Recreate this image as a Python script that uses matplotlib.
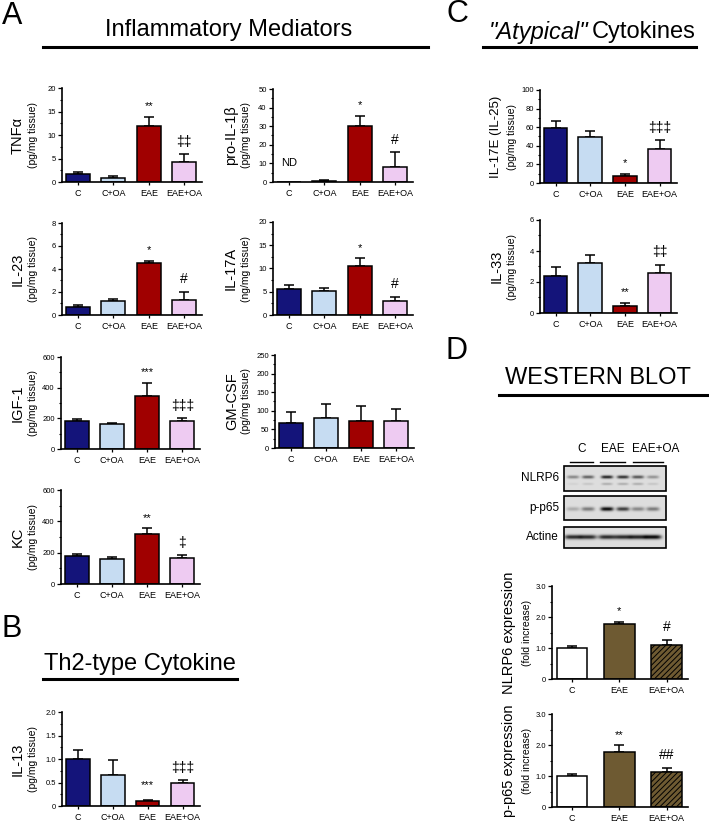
import numpy as np
import matplotlib.pyplot as plt
from matplotlib.lines import Line2D
from matplotlib.patches import Rectangle
from matplotlib.ticker import MultipleLocator, AutoMinorLocator, FuncFormatter

plt.rcParams['font.family'] = ['Liberation Sans', 'DejaVu Sans']
plt.rcParams['hatch.linewidth'] = 0.7

W, H = 709, 822

# groups / colours
groups4 = ['C', 'C+OA', 'EAE', 'EAE+OA']
groups3 = ['C', 'EAE', 'EAE+OA']
colors4 = ['#14147a', '#c6dcf2', '#a00000', '#eecbf2']
colors3 = ['white', '#6e5a32', '#6e5a32']

# values (mean, upper SEM)
tnf = [1.6, 0.8, 12.0, 4.3]
tnf_err = [0.6, 0.5, 1.8, 1.6]
il1b = [0, 0.8, 30.0, 8.0]
il1b_err = [0, 0.5, 5.5, 8.0]
il23 = [0.7, 1.2, 4.5, 1.3]
il23_err = [0.2, 0.2, 0.2, 0.7]
il17a = [5.6, 5.1, 10.5, 3.0]
il17a_err = [0.8, 0.7, 1.7, 0.9]
igf1 = [185, 160, 345, 180]
igf1_err = [12, 8, 85, 20]
gmcsf = [68, 80, 72, 73]
gmcsf_err = [28, 38, 42, 33]
kc = [180, 158, 320, 163]
kc_err = [12, 12, 35, 20]
il13 = [1.0, 0.65, 0.1, 0.49]
il13_err = [0.2, 0.32, 0.03, 0.06]
il17e = [59, 49, 7, 37]
il17e_err = [8, 7, 3, 9]
il33 = [2.4, 3.25, 0.45, 2.6]
il33_err = [0.55, 0.5, 0.2, 0.5]
nlrp6 = [1.0, 1.78, 1.1]
nlrp6_err = [0.07, 0.07, 0.17]
pp65 = [1.0, 1.77, 1.12]
pp65_err = [0.08, 0.22, 0.15]

# western blot band intensities (6 lanes)
blot_nlrp6 = [0.35, 0.5, 0.75, 0.7, 0.55, 0.3]
blot_nlrp6_low = [0.05, 0.1, 0.2, 0.2, 0.2, 0.1]
blot_pp65 = [0.2, 0.4, 0.85, 0.65, 0.35, 0.4]
blot_actin = [0.72, 0.72, 0.72, 0.72, 0.75, 0.85]

fig = plt.figure(figsize=(W / 100, H / 100), dpi=100)


def px_axes(l, t, r, b):
    return fig.add_axes([l / W, 1 - b / H, (r - l) / W, (b - t) / H])


def ftext(x, y, s, **kw):
    return fig.text(x / W, 1 - y / H, s, **kw)


def hline(x0, x1, y, lw=2.2):
    fig.add_artist(Line2D([x0 / W, x1 / W], [1 - y / H, 1 - y / H], color='black', lw=lw))


def bar_panel(box, vals, errs, ymax, step, names, colors, marks, label, unit,
              dx=(44, 29), lab_size=10.5, fmt=None, width=0.68, hatches=None):
    l, t, r, b = box
    ax = px_axes(l, t, r, b)
    n = len(vals)
    x = np.arange(n)
    bars = ax.bar(x, vals, width=width, color=colors, edgecolor='black', linewidth=1.1, zorder=2)
    if hatches:
        for bar, h in zip(bars, hatches):
            if h:
                bar.set_hatch(h)
    for i in range(n):
        if errs[i] > 0:
            ax.errorbar(x[i], vals[i], yerr=[[0], [errs[i]]], fmt='none', ecolor='black',
                        elinewidth=1.1, capsize=3.5, capthick=1.1, zorder=1)
    for i, m in enumerate(marks):
        if m:
            size = 8 if '*' in m else 10
            ax.text(x[i], vals[i] + errs[i] + ymax * 0.06, m, ha='center', va='bottom', fontsize=size)
    ax.set_ylim(0, ymax)
    ax.set_xlim(-0.45 if n == 4 else -0.42, n - 0.5 if n == 4 else n - 0.55)
    ax.yaxis.set_major_locator(MultipleLocator(step))
    ax.yaxis.set_minor_locator(AutoMinorLocator(2))
    if fmt:
        ax.yaxis.set_major_formatter(FuncFormatter(lambda v, p: '0' if v == 0 else fmt.format(v)))
    ax.set_xticks(x)
    ax.set_xticklabels(names)
    for s in ['top', 'right']:
        ax.spines[s].set_visible(False)
    for s in ['left', 'bottom']:
        ax.spines[s].set_linewidth(1.2)
    ax.tick_params(axis='y', which='major', length=3, width=0.9, labelsize=5.5, pad=1.5)
    ax.tick_params(axis='y', which='minor', length=1.5, width=0.8)
    ax.tick_params(axis='x', length=2, width=0.9, labelsize=6.5, pad=3)
    ftext(l - dx[0], (t + b) / 2, label, rotation=90, ha='center', va='center', fontsize=lab_size)
    ftext(l - dx[1], (t + b) / 2, unit, rotation=90, ha='center', va='center', fontsize=7.5)
    return ax


unit_pg = '(pg/mg tissue)'

# ---- panel A ----
ftext(12, 16, 'A', fontsize=22, ha='center', va='center')
ftext(229, 30, 'Inflammatory Mediators', fontsize=17, ha='center', va='center')
hline(43, 428, 47)

bar_panel((62, 88, 202, 182), tnf, tnf_err, 20, 5, groups4, colors4,
          ['', '', '**', '‡‡'], 'TNFα', unit_pg)
ax = bar_panel((273, 89, 413, 182), il1b, il1b_err, 50, 10, groups4, colors4,
               ['', '', '*', '#'], 'pro-IL-1β', unit_pg, dx=(42, 27))
ax.text(0, 10, 'ND', ha='center', va='center', fontsize=8)
bar_panel((62, 223, 202, 315), il23, il23_err, 8, 2, groups4, colors4,
          ['', '', '*', '#'], 'IL-23', unit_pg)
bar_panel((273, 222, 413, 315), il17a, il17a_err, 20, 5, groups4, colors4,
          ['', '', '*', '#'], 'IL-17A', '(ng/mg tissue)', dx=(42, 27))
bar_panel((61, 357, 200, 449), igf1, igf1_err, 600, 200, groups4, colors4,
          ['', '', '***', '‡‡‡'], 'IGF-1', unit_pg, dx=(43, 28))
bar_panel((275, 355, 414, 448), gmcsf, gmcsf_err, 250, 50, groups4, colors4,
          ['', '', '', ''], 'GM-CSF', unit_pg, dx=(43, 29))
bar_panel((61, 490, 200, 584), kc, kc_err, 600, 200, groups4, colors4,
          ['', '', '**', '‡'], 'KC', unit_pg, dx=(43, 28))

# ---- panel B ----
ftext(12, 629, 'B', fontsize=22, ha='center', va='center')
ftext(140, 664, 'Th2-type Cytokine', fontsize=17, ha='center', va='center')
hline(43, 237, 679)
ax = bar_panel((62, 712, 200, 806), il13, il13_err, 2.0, 0.5, groups4, colors4,
               ['', '', '', '‡‡‡'], 'IL-13', unit_pg, fmt='{:.1f}')
ax.text(2, 0.34, '***', ha='center', va='bottom', fontsize=8)

# ---- panel C ----
ftext(457, 14, 'C', fontsize=22, ha='center', va='center')
ftext(588, 32, '"Atypical"', fontsize=17, ha='right', va='center', style='italic')
ftext(592, 32, 'Cytokines', fontsize=17, ha='left', va='center')
hline(483, 696, 47)
bar_panel((540, 90, 677, 183), il17e, il17e_err, 100, 20, groups4, colors4,
          ['', '', '*', '‡‡‡'], 'IL-17E (IL-25)', unit_pg, dx=(44, 28), lab_size=9.5)
bar_panel((540, 220, 677, 313), il33, il33_err, 6, 2, groups4, colors4,
          ['', '', '**', '‡‡'], 'IL-33', unit_pg, dx=(43, 28))

# ---- panel D ----
ftext(457, 351, 'D', fontsize=22, ha='center', va='center')
ftext(598, 378, 'WESTERN BLOT', fontsize=17, ha='center', va='center')
hline(499, 708, 395)

bax = px_axes(500, 440, 680, 555)
bax.set_axis_off()
lanes_x = [573, 588, 607, 623, 638, 653]


def strip(y0, y1, bands):
    x0, x1 = 564, 666
    h, w = int((y1 - y0) * 4), int((x1 - x0) * 4)
    ys = np.linspace(y0, y1, h)[:, None]
    xs = np.linspace(x0, x1, w)[None, :]
    img = np.full((h, w), 0.87)
    for yc, inten, sy, half in bands:
        for lx, a in zip(lanes_x, inten):
            img = img - a * np.exp(-((ys - yc) / sy) ** 2) * np.exp(-((xs - lx) / half) ** 4)
    bax.imshow(np.clip(img, 0, 1), cmap='gray', vmin=0, vmax=1, extent=(x0, x1, y1, y0),
               aspect='auto', interpolation='bilinear')
    bax.add_patch(Rectangle((x0, y0), x1 - x0, y1 - y0, fill=False, edgecolor='black', lw=1.2))


strip(466, 491, [(477, blot_nlrp6, 1.6, 6), (484, blot_nlrp6_low, 1.2, 5.5)])
strip(496, 520, [(509, blot_pp65, 2.0, 6.5)])
strip(527, 548, [(537, blot_actin, 2.2, 8.5)])
bax.set_xlim(500, 680)
bax.set_ylim(555, 440)
for name, yc in [('NLRP6', 478), ('p-p65', 508), ('Actine', 537)]:
    bax.text(559, yc, name, ha='right', va='center', fontsize=8.5)
for name, xc, xa, xb in [('C', 582, 570, 593), ('EAE', 613, 600, 625), ('EAE+OA', 656, 633, 663)]:
    bax.text(xc, 455, name, ha='center', va='bottom', fontsize=8.5)
    bax.plot([xa, xb], [462, 462], color='black', lw=1)

bar_panel((552, 586, 688, 679), nlrp6, nlrp6_err, 3.0, 1.0, groups3, colors3,
          ['', '*', '#'], 'NLRP6 expression', '(fold increase)', dx=(43, 25),
          fmt='{:.1f}', width=0.65, hatches=[None, None, '//////'])
bar_panel((552, 714, 688, 807), pp65, pp65_err, 3.0, 1.0, groups3, colors3,
          ['', '**', '##'], 'p-p65 expression', '(fold increase)', dx=(43, 25),
          fmt='{:.1f}', width=0.65, hatches=[None, None, '//////'])

fig.savefig('out.png', dpi=100)
